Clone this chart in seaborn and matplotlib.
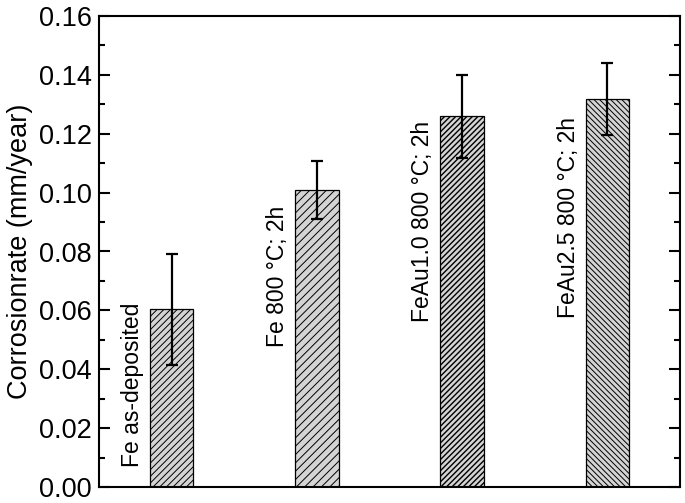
import matplotlib
matplotlib.use("Agg")
import matplotlib.pyplot as plt
import seaborn as sns
import pandas as pd
from matplotlib.ticker import MultipleLocator, FormatStrFormatter

samples = ["Fe as-deposited", "Fe 800 °C; 2h", "FeAu1.0 800 °C; 2h", "FeAu2.5 800 °C; 2h"]
rates = [0.0603, 0.1009, 0.1260, 0.1318]
errors = [0.0189, 0.0099, 0.0141, 0.0122]
label_bottom = [0.0068, 0.0476, 0.0560, 0.0574]
hatches = ["/////", "////", "//////", "\\\\\\\\\\\\"]
hatch_lw = [0.7, 0.7, 1.0, 0.7]

sns.set_theme(style="ticks")
plt.rcParams["font.family"] = ["Liberation Sans", "DejaVu Sans"]
plt.rcParams["hatch.linewidth"] = 0.7
plt.rcParams["text.color"] = "black"
plt.rcParams["axes.labelcolor"] = "black"
plt.rcParams["ytick.color"] = "black"
plt.rcParams["xtick.color"] = "black"

df = pd.DataFrame({"sample": samples, "rate": rates})

fig = plt.figure(figsize=(6.85, 5.03), dpi=100)
ax = fig.add_axes([0.1445, 0.0318, 0.8482, 0.9364])

sns.barplot(data=df, x="sample", y="rate", ax=ax, color="#d4d4d4",
            width=0.3, edgecolor="black", linewidth=0.9, errorbar=None,
            saturation=1)
for patch, h, lw in zip(ax.patches, hatches, hatch_lw):
    patch.set_hatch(h)
    patch.set_facecolor("#d4d4d4")
    patch.set_edgecolor("black")
    if hasattr(patch, "set_hatch_linewidth"):
        patch.set_hatch_linewidth(lw)

xs = list(range(len(samples)))
ax.errorbar(xs, rates, yerr=errors, fmt="none", ecolor="black",
            elinewidth=1.6, capsize=4.5, capthick=1.6, zorder=5)

for x, name, yb in zip(xs, samples, label_bottom):
    ax.text(x - 0.27, yb, name, rotation=90, ha="center", va="bottom",
            fontsize=16.5, color="black")

ax.set_xlim(-0.5, 3.5)
ax.set_ylim(0, 0.16)
ax.yaxis.set_major_locator(MultipleLocator(0.02))
ax.yaxis.set_minor_locator(MultipleLocator(0.01))
ax.yaxis.set_major_formatter(FormatStrFormatter("%.2f"))
ax.set_xticks([])
ax.set_xlabel("")
ax.set_ylabel("Corrosionrate (mm/year)", fontsize=19.5, labelpad=4, color="black")
ax.tick_params(axis="y", which="major", direction="in", length=8, width=1.5,
               labelsize=19.5, right=True, pad=5, colors="black")
ax.tick_params(axis="y", which="minor", direction="in", length=4.5, width=1.5,
               right=True, colors="black")
for s in ax.spines.values():
    s.set_visible(True)
    s.set_linewidth(1.5)
    s.set_color("black")

fig.savefig("out.png", dpi=100)
